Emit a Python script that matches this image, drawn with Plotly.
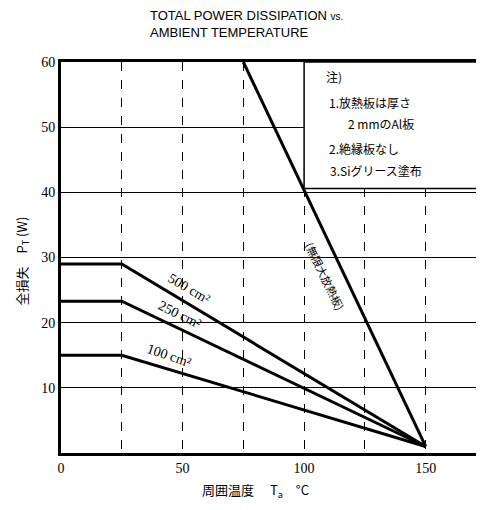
import plotly.graph_objects as go

# Data
temps = [0, 25, 150]
p500 = [29, 29, 1]
p250 = [23.3, 23.3, 1]
p100 = [15, 15, 1]
inf_temps = [75, 150]
p_inf = [60, 1]

x_tickvals = [0, 50, 100, 150]
y_tickvals = [10, 20, 30, 40, 50, 60]

curve_labels = ["500 cm²", "250 cm²", "100 cm²"]
note_lines = ["注)", "1.放熱板は厚さ", "2 mmのAl板", "2.絶縁板なし", "3.Siグリース塗布"]

CJK = "Noto Sans CJK JP"
SERIF = "Liberation Serif"
SANS = "Liberation Sans"

fig = go.Figure()
line_style = dict(color="black", width=3)
for ys in (p500, p250, p100):
    fig.add_trace(go.Scatter(x=temps, y=ys, mode="lines", line=line_style, showlegend=False, hoverinfo="skip"))
fig.add_trace(go.Scatter(x=inf_temps, y=p_inf, mode="lines", line=line_style, showlegend=False, hoverinfo="skip"))

# Note box
fig.add_shape(type="rect", x0=100, x1=172, y0=40.6, y1=60, xref="x", yref="y",
              fillcolor="white", line=dict(color="black", width=1.5), layer="above")

# Curve labels
label_pos = [(52.5, 25.2, 30), (48.8, 21.3, 26), (44.3, 14.9, 19)]
for txt, (lx, ly, ang) in zip(curve_labels, label_pos):
    fig.add_annotation(x=lx, y=ly, text=txt, showarrow=False, textangle=ang,
                       font=dict(family=SERIF, size=14, color="black"))

fig.add_annotation(x=108.5, y=27.1, text="(無限大放熱板)", showarrow=False, textangle=64,
                   font=dict(family=CJK, size=11, color="black"))

note_pos = [(108.2, 57.7), (109.4, 53.8), (117.2, 50.6), (109.4, 46.8), (109.8, 43.4)]
for txt, (nx, ny) in zip(note_lines, note_pos):
    fig.add_annotation(x=nx, y=ny, text=txt, showarrow=False, xanchor="left",
                       font=dict(family=CJK, size=12, color="black"))

# Title
fig.add_annotation(xref="paper", yref="paper", x=0.206, y=1.097, xanchor="left", yanchor="middle",
                   align="left", showarrow=False,
                   text="TOTAL POWER DISSIPATION <span style='font-size:10px'>vs.</span><br>AMBIENT TEMPERATURE",
                   font=dict(family=SANS, size=13, color="black"))

# Axis titles
fig.add_annotation(xref="paper", yref="paper", x=-0.092, y=0.49, xanchor="center", yanchor="middle",
                   textangle=-90, showarrow=False,
                   text="全損失　P<sub>T</sub> (W)", font=dict(family=CJK, size=13, color="black"))
fig.add_annotation(xref="paper", yref="paper", x=0.46, y=-0.097, xanchor="center", yanchor="middle",
                   showarrow=False,
                   text="周囲温度　 T<sub>a</sub>　°C", font=dict(family=CJK, size=13, color="black"))

fig.update_xaxes(range=[0, 174], tickvals=x_tickvals,
                 showgrid=True, gridcolor="black", gridwidth=1, griddash="dash",
                 minor=dict(dtick=25, tick0=0, showgrid=True, gridcolor="black", gridwidth=1, griddash="dash", ticks=""),
                 showline=True, linecolor="black", linewidth=3, mirror=True,
                 ticks="", zeroline=False,
                 tickfont=dict(family=SERIF, size=14, color="black"))
fig.update_yaxes(range=[0, 60], tickvals=y_tickvals,
                 showgrid=True, gridcolor="black", gridwidth=1,
                 showline=True, linecolor="black", linewidth=3, mirror=False,
                 ticks="", zeroline=False,
                 tickfont=dict(family=SERIF, size=14, color="black"))

fig.update_layout(width=476, height=502, margin=dict(l=53, r=0, t=54, b=57),
                  plot_bgcolor="white", paper_bgcolor="white", showlegend=False)

fig.write_html("out.html")
